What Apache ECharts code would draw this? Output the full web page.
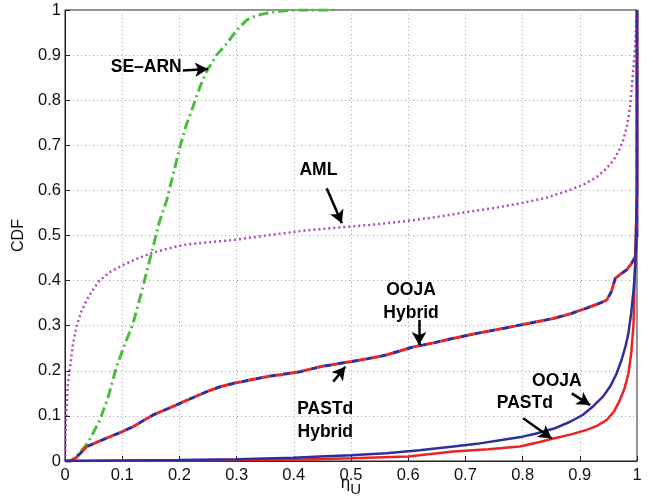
<!DOCTYPE html>
<html>
<head>
<meta charset="utf-8">
<script src="https://cdn.jsdelivr.net/npm/echarts@6/dist/echarts.min.js"></script>
<style>
  html, body { margin: 0; padding: 0; background: #fff; }
  #chart { width: 653px; height: 499px; }
</style>
</head>
<body>
<div id="chart"></div>
<script>
// CDF curves, [eta_U, CDF] pairs
const searn = [[0,0],[0.01,0],[0.02,0.01],[0.04,0.04],[0.061,0.091],[0.075,0.14],[0.09,0.209],[0.105,0.26],[0.119,0.305],[0.135,0.38],[0.154,0.475],[0.165,0.53],[0.178,0.579],[0.19,0.64],[0.201,0.697],[0.212,0.745],[0.224,0.786],[0.236,0.83],[0.248,0.865],[0.265,0.9],[0.283,0.926],[0.3,0.955],[0.318,0.978],[0.335,0.988],[0.353,0.993],[0.38,0.998],[0.4,1],[0.47,1]]
const aml = [[0,0],[0.002,0.1],[0.005,0.17],[0.009,0.209],[0.014,0.26],[0.02,0.298],[0.028,0.33],[0.038,0.357],[0.05,0.382],[0.061,0.401],[0.08,0.42],[0.102,0.435],[0.125,0.448],[0.149,0.46],[0.18,0.471],[0.207,0.479],[0.25,0.485],[0.294,0.49],[0.34,0.498],[0.382,0.505],[0.42,0.511],[0.463,0.516],[0.53,0.523],[0.591,0.531],[0.65,0.541],[0.708,0.553],[0.75,0.561],[0.795,0.571],[0.84,0.583],[0.883,0.601],[0.91,0.615],[0.93,0.63],[0.946,0.648],[0.959,0.667],[0.968,0.687],[0.976,0.712],[0.983,0.745],[0.988,0.786],[0.991,0.83],[0.994,0.875],[0.997,0.93],[1,1]]
const hybrid = [[0,0],[0.01,0],[0.02,0.008],[0.038,0.032],[0.06,0.044],[0.079,0.054],[0.1,0.065],[0.119,0.076],[0.135,0.088],[0.154,0.102],[0.18,0.116],[0.201,0.128],[0.225,0.141],[0.248,0.154],[0.27,0.164],[0.294,0.172],[0.325,0.18],[0.353,0.187],[0.38,0.192],[0.411,0.198],[0.446,0.209],[0.498,0.22],[0.53,0.227],[0.562,0.235],[0.609,0.253],[0.645,0.262],[0.679,0.272],[0.72,0.283],[0.766,0.294],[0.81,0.305],[0.854,0.316],[0.885,0.327],[0.912,0.339],[0.935,0.35],[0.947,0.357],[0.955,0.375],[0.962,0.405],[0.972,0.415],[0.982,0.424],[0.99,0.437],[0.997,0.453],[1,0.5],[1,1]]
const ooja = [[0,0],[0.1,0.001],[0.2,0.002],[0.3,0.004],[0.4,0.007],[0.446,0.01],[0.5,0.013],[0.562,0.017],[0.62,0.024],[0.679,0.032],[0.72,0.038],[0.766,0.047],[0.8,0.054],[0.824,0.061],[0.855,0.072],[0.883,0.087],[0.905,0.102],[0.924,0.122],[0.94,0.142],[0.953,0.165],[0.964,0.193],[0.973,0.224],[0.98,0.255],[0.985,0.283],[0.99,0.33],[0.994,0.379],[0.997,0.43],[1,0.6],[1,1]]
const pastd = [[0,0],[0.2,0.001],[0.4,0.003],[0.5,0.006],[0.6,0.01],[0.679,0.021],[0.74,0.026],[0.795,0.032],[0.83,0.042],[0.854,0.05],[0.885,0.059],[0.912,0.069],[0.93,0.078],[0.947,0.091],[0.96,0.11],[0.97,0.135],[0.978,0.16],[0.985,0.194],[0.99,0.24],[0.994,0.305],[0.996,0.41],[1,0.6],[1,1]]

// annotations: label text + position, arrow tail -> head
const notes = [
  { text: 'SE–ARN', at: [0.142, 0.874] },
  { text: 'AML', at: [0.443, 0.644] },
  { text: 'OOJA\nHybrid', at: [0.605, 0.353] },
  { text: 'PASTd\nHybrid', at: [0.455, 0.089] },
  { text: 'OOJA', at: [0.86, 0.178] },
  { text: 'PASTd', at: [0.804, 0.128] }
]
const arrows = [
  [[0.206, 0.866], [0.25, 0.869]],
  [[0.4575, 0.605], [0.484, 0.527]],
  [[0.619, 0.313], [0.619, 0.257]],
  [[0.469, 0.176], [0.49, 0.209]],
  [[0.886, 0.15], [0.918, 0.124]],
  [[0.801, 0.095], [0.851, 0.05]]
]

const font = 'Liberation Sans, Arial, sans-serif'
const chart = echarts.init(document.getElementById('chart'))

chart.setOption({
  animation: false,
  grid: { left: 65, right: 16, top: 10, bottom: 38, outerBoundsMode: 'none', show: true, borderColor: '#222', borderWidth: 1 },
  xAxis: {
    type: 'value', min: 0, max: 1, interval: 0.1,
    name: '{a|η}{b|U}', nameLocation: 'middle', nameGap: 9, nameMoveOverlap: false,
    nameTextStyle: { rich: { a: { fontSize: 17, fontFamily: font, color: '#111' }, b: { fontSize: 15, fontFamily: font, color: '#111', padding: [12, 0, 0, 0] } } },
    axisLine: { lineStyle: { color: '#222' } },
    axisTick: { inside: true, length: 5, lineStyle: { color: '#222' } },
    axisLabel: { fontSize: 16.5, fontFamily: font, color: '#111', margin: 6, formatter: v => String(+v.toFixed(1)) },
    splitLine: { lineStyle: { color: '#aaa', type: [1, 3] } }
  },
  yAxis: {
    type: 'value', min: 0, max: 1, interval: 0.1,
    name: 'CDF', nameLocation: 'middle', nameGap: 38, nameMoveOverlap: false,
    nameTextStyle: { fontSize: 16, fontFamily: font, color: '#111' },
    axisLine: { lineStyle: { color: '#222' } },
    axisTick: { inside: true, length: 5, lineStyle: { color: '#222' } },
    axisLabel: { fontSize: 16.5, fontFamily: font, color: '#111', margin: 4, formatter: v => String(+v.toFixed(1)) },
    splitLine: { lineStyle: { color: '#aaa', type: [1, 3] } }
  },
  series: [
    { name: 'SE-ARN', type: 'line', data: searn, showSymbol: false,
      lineStyle: { color: '#4cbc3c', width: 3, type: [10, 4, 2, 4] } },
    { name: 'AML', type: 'line', data: aml, showSymbol: false,
      lineStyle: { color: '#b448c0', width: 2.5, type: [2, 3] } },
    { name: 'OOJA Hybrid', type: 'line', data: hybrid, showSymbol: false,
      lineStyle: { color: '#2e2e9c', width: 3, type: [7, 7] } },
    { name: 'PASTd Hybrid', type: 'line', data: hybrid, showSymbol: false,
      lineStyle: { color: '#ee2222', width: 3, type: [7, 7], dashOffset: 7 } },
    { name: 'PASTd', type: 'line', data: pastd, showSymbol: false,
      lineStyle: { color: '#ee2222', width: 2.5 } },
    { name: 'OOJA', type: 'line', data: ooja, showSymbol: false,
      lineStyle: { color: '#2e2e9c', width: 2.5 } },
    {
      name: 'notes', type: 'line', data: [], silent: true,
      markLine: {
        silent: true, symbol: ['none', 'arrow'], symbolSize: [11, 13],
        lineStyle: { color: '#000', width: 2.5, type: 'solid' },
        label: { show: false },
        data: arrows.map(([a, b]) => [{ coord: a }, { coord: b }])
      },
      markPoint: {
        silent: true, symbol: 'circle', symbolSize: 0,
        label: { show: true, position: 'inside', color: '#000', fontSize: 17.5, fontWeight: 'bold', fontFamily: font, lineHeight: 23, align: 'center' },
        data: notes.map(n => ({ coord: n.at, label: { formatter: n.text } }))
      }
    }
  ]
})
</script>
</body>
</html>
